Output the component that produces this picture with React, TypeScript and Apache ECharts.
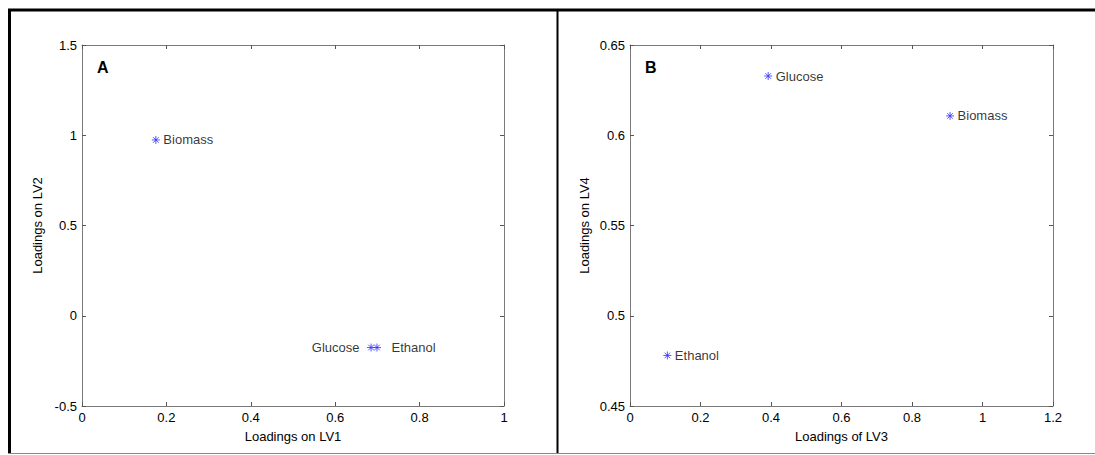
import React, { useEffect, useRef } from "react";
import * as echarts from "echarts";

const pointNames = ["Biomass", "Glucose", "Ethanol"];
const panelAX = [0.175, 0.685, 0.699];
const panelAY = [0.974, -0.176, -0.176];
const panelALabelPos = ["right", "left", "right"];
const panelBX = [0.908, 0.392, 0.106];
const panelBY = [0.6107, 0.6328, 0.478];
const panelBLabelPos = ["right", "right", "right"];

const FONT = "Liberation Sans";
const STAR = "path://M0,-4L0,4M-4,0L4,0M-2.8,-2.8L2.8,2.8M-2.8,2.8L2.8,-2.8";
const fmt = (v: number) => String(+v.toFixed(2));

function buildData(xs: number[], ys: number[], pos: string[], dist: number[]) {
  return xs.map((x, i) => ({
    name: pointNames[i],
    value: [x, ys[i]],
    label: { show: true, position: pos[i], distance: dist[i], formatter: "{b}" },
  }));
}

export default function App() {
  const ref = useRef<HTMLDivElement>(null);
  useEffect(() => {
    const chart = echarts.init(ref.current!, null, { renderer: "svg" });
    const axisLine = () => ({ show: true, onZero: false, lineStyle: { color: "#7a7a7a", width: 1 } });
    const tick = () => ({ show: true, inside: true, length: 4, lineStyle: { color: "#555" } });
    const label = { color: "#000", fontFamily: FONT, fontSize: 13, formatter: fmt };
    const nameStyle = { color: "#000", fontFamily: FONT, fontSize: 13 };
    const mkX = (grid: number, min: number, max: number, name: string) => [
      {
        type: "value", gridIndex: grid, min, max, interval: 0.2, position: "bottom",
        axisLine: axisLine(), axisTick: tick(), splitLine: { show: false },
        axisLabel: { ...label, margin: 5 },
        name, nameLocation: "middle", nameGap: 24, nameTextStyle: nameStyle,
      },
      {
        type: "value", gridIndex: grid, min, max, interval: 0.2, position: "top",
        axisLine: axisLine(), axisTick: tick(), splitLine: { show: false }, axisLabel: { show: false },
      },
    ];
    const mkY = (grid: number, min: number, max: number, interval: number, name: string, gap: number) => [
      {
        type: "value", gridIndex: grid, min, max, interval, position: "left",
        axisLine: axisLine(), axisTick: tick(), splitLine: { show: false },
        axisLabel: { ...label, margin: 5 },
        name, nameLocation: "middle", nameGap: gap, nameTextStyle: nameStyle,
      },
      {
        type: "value", gridIndex: grid, min, max, interval, position: "right",
        axisLine: axisLine(), axisTick: tick(), splitLine: { show: false }, axisLabel: { show: false },
      },
    ];
    const seriesBase = {
      type: "scatter",
      symbol: STAR,
      symbolSize: 8,
      symbolKeepAspect: true,
      itemStyle: { color: "rgba(0,0,0,0)", borderColor: "#3030ff", borderWidth: 1 },
      label: { color: "#000", fontFamily: FONT, fontSize: 13 },
      emphasis: { disabled: true },
    };
    chart.setOption({
      animation: false,
      backgroundColor: "#fff",
      grid: [
        { left: 82, top: 45, width: 422, height: 361 },
        { left: 630, top: 45, width: 423, height: 361 },
      ],
      xAxis: [...mkX(0, 0, 1, "Loadings on LV1"), ...mkX(1, 0, 1.2, "Loadings of LV3")],
      yAxis: [
        ...mkY(0, -0.5, 1.5, 0.5, "Loadings on LV2", 38),
        ...mkY(1, 0.45, 0.65, 0.05, "Loadings on LV4", 39),
      ],
      series: [
        {
          ...seriesBase, xAxisIndex: 0, yAxisIndex: 0,
          data: buildData(panelAX, panelAY, panelALabelPos, [3, 7, 10]),
        },
        {
          ...seriesBase, xAxisIndex: 2, yAxisIndex: 2,
          data: buildData(panelBX, panelBY, panelBLabelPos, [3, 3, 3]),
        },
      ],
      graphic: [
        { type: "line", shape: { x1: 8, y1: 10, x2: 1095, y2: 10 }, style: { stroke: "#000", lineWidth: 3 } },
        { type: "line", shape: { x1: 9.5, y1: 9, x2: 9.5, y2: 454 }, style: { stroke: "#000", lineWidth: 3 } },
        { type: "line", shape: { x1: 557.5, y1: 9, x2: 557.5, y2: 454 }, style: { stroke: "#000", lineWidth: 2 } },
        { type: "line", shape: { x1: 8, y1: 453.5, x2: 1095, y2: 453.5 }, style: { stroke: "#888", lineWidth: 1 } },
        { type: "text", x: 97, y: 59, style: { text: "A", fill: "#000", font: `bold 16px ${FONT}` } },
        { type: "text", x: 645, y: 59, style: { text: "B", fill: "#000", font: `bold 16px ${FONT}` } },
      ],
    });
    return () => chart.dispose();
  }, []);
  return <div ref={ref} style={{ position: "absolute", left: 0, top: 0, width: 1095, height: 455 }} />;
}
